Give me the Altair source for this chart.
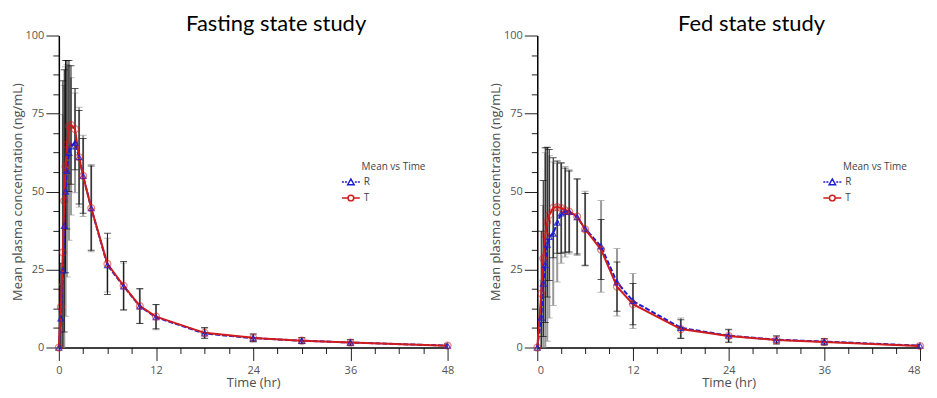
import altair as alt
import pandas as pd

# ---------------- data ----------------
series_names = ["R", "T"]

fast_time = [0, 0.25, 0.5, 0.67, 0.83, 1, 1.25, 1.5, 2, 2.5, 3, 4, 6, 8, 10, 12, 18, 24, 30, 36, 48]
fast_R_mean = [0, 9.3, 24.7, 39, 50, 56.6, 62.4, 64.5, 65.6, 61, 55, 44.7, 26.4, 19.6, 13.2, 9.7, 4.5, 3.0, 2.2, 1.6, 0.6]
fast_R_sd = [0, 11, 50, 45, 40, 34, 28, 22, 16, 16, 13, 14, 8.6, 7.5, 5.4, 4.0, 1.6, 1.3, 1.0, 1.0, 0.5]
fast_T_mean = [0, 13, 30.5, 47, 58, 65, 71, 71.3, 70, 61, 55, 44.7, 26.8, 19.8, 13.3, 9.9, 4.7, 3.1, 2.2, 1.6, 0.6]
fast_T_sd = [0, 14, 55, 42, 34, 27, 21, 19, 13, 15, 12, 13.5, 9.8, 7.8, 5.6, 3.9, 1.7, 1.2, 0.9, 0.9, 0.5]

fed_time = [0, 0.5, 0.75, 1, 1.25, 1.5, 2, 2.5, 3, 3.5, 4, 5, 6, 8, 10, 12, 18, 24, 30, 36, 48]
fed_R_mean = [0, 9.6, 20.5, 26.4, 33, 35.5, 36.5, 40, 43, 43.5, 43.5, 41.8, 38.1, 32.4, 20.9, 14.9, 6.3, 3.8, 2.5, 1.9, 0.6]
fed_R_sd = [0, 12, 25, 36, 31, 26, 23, 19, 16, 14.5, 13.5, 12.3, 12, 14.7, 10.8, 8.8, 3.2, 2.1, 1.3, 1.0, 0.5]
fed_T_mean = [0, 17.3, 28.5, 36, 40.2, 42.5, 44.8, 45, 44.7, 44, 43.6, 42, 37.9, 31.4, 19.5, 13.9, 5.9, 3.7, 2.4, 1.8, 0.5]
fed_T_sd = [0, 20, 25, 28, 24, 21, 16, 14.8, 14.5, 13.5, 13, 12, 11.5, 9.6, 7.9, 6.6, 3.0, 2.0, 1.3, 1.0, 0.5]

titles = ["Fasting state study", "Fed state study"]
x_ticks = [0, 3, 6, 9, 12, 15, 18, 21, 24, 27, 30, 33, 36, 39, 42, 45, 48]
y_ticks = [0, 6.25, 12.5, 18.75, 25, 31.25, 37.5, 43.75, 50, 56.25, 62.5, 68.75, 75,
           81.25, 87.5, 93.75, 100]
legend_title = "Mean vs Time"

BLUE = "#1c1cd6"
RED = "#d01c1c"

# legend symbols: line segment + marker (unit square paths)
R_SYMBOL = ("M-1,0H-0.78M-0.66,0H-0.44"
            "M-0.36,0.3L0,-0.34L0.36,0.3Z"
            "M0.44,0H0.66M0.78,0H1")
T_SYMBOL = ("M-1,0H-0.34M0.34,0H1"
            "M0.32,0A0.32,0.32 0 1,1 -0.32,0A0.32,0.32 0 1,1 0.32,0Z")


def build(time, r_mean, r_sd, t_mean, t_sd):
    rows = []
    for s, m, sd in (("R", r_mean, r_sd), ("T", t_mean, t_sd)):
        for t, v, e in zip(time, m, sd):
            rows.append({"time": t, "series": s, "mean": v, "lo": v - e, "hi": v + e})
    return pd.DataFrame(rows)


def tick_size(step):
    return {"condition": {"test": f"datum.value % {step} === 0", "value": 13}, "value": 6}


def x_axis(flush):
    return alt.Axis(values=x_ticks, labelExpr="datum.value % 12 === 0 ? datum.label : ''",
                    tickSize=tick_size(12), labelPadding=4, titlePadding=1, labelFlush=flush)


y_axis = alt.Axis(values=y_ticks, labelExpr="datum.value % 25 === 0 ? datum.label : ''",
                  tickSize=tick_size(25), labelPadding=2, titlePadding=1)


def panel(df, title, width, lx, flush):
    base = alt.Chart(df)

    def X():
        return alt.X("time:Q", scale=alt.Scale(domain=[0, 48], nice=False, zero=False),
                     axis=x_axis(flush), title="Time (hr)")

    def Y(field):
        return alt.Y(f"{field}:Q", scale=alt.Scale(domain=[0, 100], nice=False),
                     axis=y_axis, title="Mean plasma concentration (ng/mL)")

    layers = []
    for s, col, w in (("R", "#9b9b9b", 2), ("T", "#111111", 1)):
        sub = base.transform_filter(alt.datum.series == s)
        layers.append(sub.mark_rule(clip=True, color=col, strokeWidth=w).encode(x=X(), y=Y("lo"), y2="hi:Q"))
        layers.append(sub.mark_tick(clip=True, color=col, orient="horizontal", size=7, thickness=1)
                      .encode(x=X(), y=Y("hi")))
        layers.append(sub.mark_tick(clip=True, color=col, orient="horizontal", size=7, thickness=1)
                      .encode(x=X(), y=Y("lo")))

    r_sub = base.transform_filter(alt.datum.series == "R")
    t_sub = base.transform_filter(alt.datum.series == "T")
    layers.append(r_sub.mark_line(strokeWidth=2, color=BLUE, strokeDash=[5, 2]).encode(
        x=X(), y=Y("mean"), order="time:Q"))
    layers.append(t_sub.mark_line(strokeWidth=2, color=RED).encode(
        x=X(), y=Y("mean"), order="time:Q"))
    layers.append(r_sub.mark_point(shape="triangle-up", filled=False, size=34, strokeWidth=1.2,
                                   opacity=0.8, color=BLUE).encode(x=X(), y=Y("mean")))
    layers.append(t_sub.mark_point(shape="circle", filled=False, size=48, strokeWidth=1.2,
                                   opacity=0.55, color=RED).encode(x=X(), y=Y("mean")))

    leg = alt.Legend(title="\u200b" + "\u00a0" * 8 + legend_title, orient="none", legendX=lx, legendY=127,
                     titleFont="Open Sans", titleFontSize=10, titleFontWeight="normal", titleColor="#444",
                     labelFont="Open Sans", labelFontSize=10, labelColor="#444",
                     symbolSize=324, symbolStrokeWidth=1.5, symbolOpacity=1, rowPadding=0,
                     labelOffset=3, titlePadding=0)
    legend_layer = base.mark_point(filled=False, size=324, strokeWidth=1.5, opacity=0).encode(
        x=X(), y=Y("mean"),
        color=alt.Color("series:N", scale=alt.Scale(domain=series_names, range=[BLUE, RED]), legend=leg),
        shape=alt.Shape("series:N", scale=alt.Scale(domain=series_names, range=[R_SYMBOL, T_SYMBOL]), legend=leg),
    )
    layers.append(legend_layer)

    return alt.layer(*layers).properties(
        width=width, height=313,
        title=alt.TitleParams(title, font="Lato", fontSize=22, fontWeight="normal", color="#000",
                              anchor="middle", dx=23, offset=-6),
    )


fast_df = build(fast_time, fast_R_mean, fast_R_sd, fast_T_mean, fast_T_sd)
fed_df = build(fed_time, fed_R_mean, fed_R_sd, fed_T_mean, fed_T_sd)

left = panel(fast_df, titles[0], 390, 283, False)
right = panel(fed_df, titles[1], 384, 286, True)

chart = alt.hconcat(left, right, spacing=90, bounds="flush").resolve_scale(
    color="independent", shape="independent"
).resolve_legend(color="independent", shape="independent").properties(
    padding={"left": 3, "top": 4, "right": 0, "bottom": 0}
).configure_view(stroke=None).configure_axis(
    grid=False, domainColor="#000", domainWidth=1.5, tickColor="#222", tickWidth=1,
    labelFont="Open Sans", labelFontSize=11, labelColor="#555",
    titleFont="Open Sans", titleFontSize=13, titleFontWeight="normal", titleColor="#4d4d4d",
)

chart.save("out.html", embed_options={"renderer": "svg", "actions": False})
